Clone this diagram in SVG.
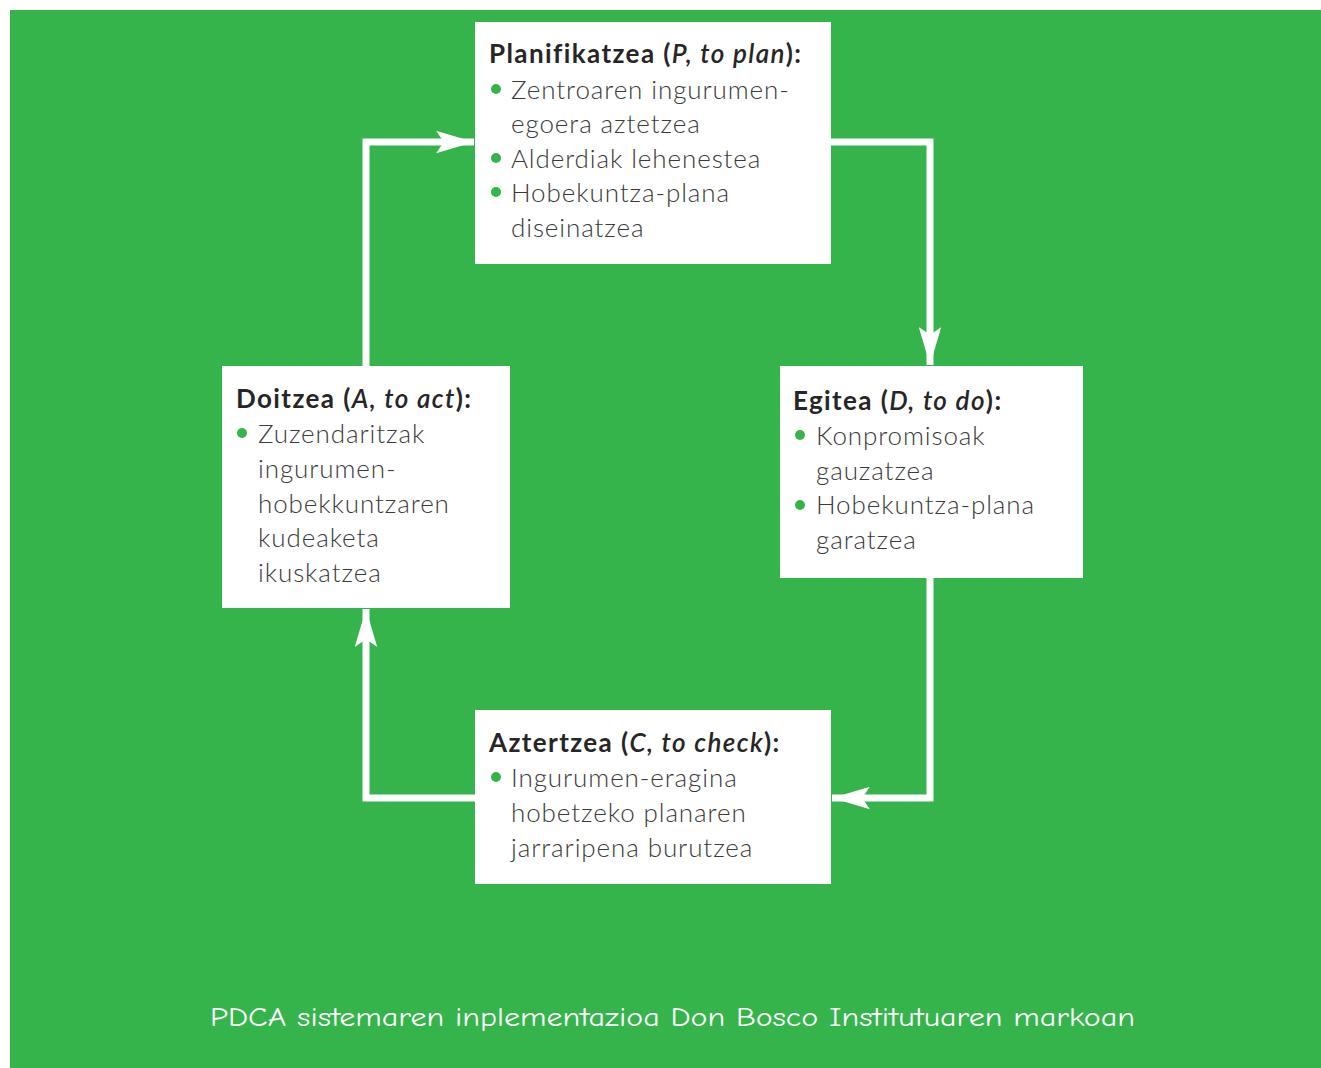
<svg xmlns="http://www.w3.org/2000/svg" width="1321" height="1068" viewBox="0 0 1321 1068">
<style>
.bg{fill:#35b44c}
.box{fill:#ffffff}
.t{font-family:Lato,"Noto Sans","Liberation Sans",sans-serif;font-weight:700;font-size:26px;letter-spacing:1.4px;fill:#262626}
.t .i{font-style:italic;font-weight:600}
.b{font-family:Lato,"Noto Sans","Liberation Sans",sans-serif;font-weight:300;font-size:26px;letter-spacing:0.9px;fill:#3a3a3a}
.dot{fill:#35b44c}
.ln{fill:none;stroke:#ffffff;stroke-width:7;stroke-linejoin:miter}
.cap{font-family:"Comic Neue","DejaVu Sans","Liberation Sans",sans-serif;font-size:26px;fill:#ffffff}
</style>
<defs>
<marker id="ah" viewBox="0 0 10 10" refX="10" refY="5" markerWidth="5.4" markerHeight="3.2" markerUnits="strokeWidth" orient="auto" preserveAspectRatio="none">
<path d="M0,0 L10,5 L0,10 L2,5 Z" fill="#ffffff"/>
</marker>
</defs>
<rect class="bg" x="10" y="10" width="1311" height="1058"/>
<g id="connectors">
<path class="ln" d="M366,366 V142 H474" marker-end="url(#ah)"/>
<path class="ln" d="M831,142 H930 V365" marker-end="url(#ah)"/>
<path class="ln" d="M930,578 V798 H832" marker-end="url(#ah)"/>
<path class="ln" d="M475,798 H366 V609" marker-end="url(#ah)"/>
</g>
<g id="node-plan">
<rect class="box" x="475" y="22" width="356" height="242"/>
<text class="t" x="489" y="63">Planifikatzea (<tspan class="i">P, to plan</tspan>):</text>
<circle class="dot" cx="496" cy="89" r="5"/>
<text class="b" x="511" y="99">Zentroaren ingurumen-</text>
<text class="b" x="511" y="133">egoera aztetzea</text>
<circle class="dot" cx="496" cy="158" r="5"/>
<text class="b" x="511" y="168">Alderdiak lehenestea</text>
<circle class="dot" cx="496" cy="192" r="5"/>
<text class="b" x="511" y="202">Hobekuntza-plana</text>
<text class="b" x="511" y="237">diseinatzea</text>
</g>
<g id="node-do">
<rect class="box" x="780" y="366" width="303" height="212"/>
<text class="t" x="793" y="410">Egitea (<tspan class="i">D, to do</tspan>):</text>
<circle class="dot" cx="800" cy="435" r="5"/>
<text class="b" x="816" y="445">Konpromisoak</text>
<text class="b" x="816" y="480">gauzatzea</text>
<circle class="dot" cx="800" cy="505" r="5"/>
<text class="b" x="816" y="514">Hobekuntza-plana</text>
<text class="b" x="816" y="549">garatzea</text>
</g>
<g id="node-act">
<rect class="box" x="222" y="366" width="288" height="242"/>
<text class="t" x="236" y="408">Doitzea (<tspan class="i">A, to act</tspan>):</text>
<circle class="dot" cx="242" cy="433" r="5"/>
<text class="b" x="258" y="443">Zuzendaritzak</text>
<text class="b" x="258" y="478">ingurumen-</text>
<text class="b" x="258" y="513">hobekkuntzaren</text>
<text class="b" x="258" y="547">kudeaketa</text>
<text class="b" x="258" y="582">ikuskatzea</text>
</g>
<g id="node-check">
<rect class="box" x="475" y="710" width="356" height="174"/>
<text class="t" x="489" y="752">Aztertzea (<tspan class="i">C, to check</tspan>):</text>
<circle class="dot" cx="496" cy="777" r="5"/>
<text class="b" x="511" y="787">Ingurumen-eragina</text>
<text class="b" x="511" y="822">hobetzeko planaren</text>
<text class="b" x="511" y="857">jarraripena burutzea</text>
</g>
<text class="cap" x="210" y="1026" textLength="925" lengthAdjust="spacingAndGlyphs">PDCA sistemaren inplementazioa Don Bosco Institutuaren markoan</text>
</svg>
